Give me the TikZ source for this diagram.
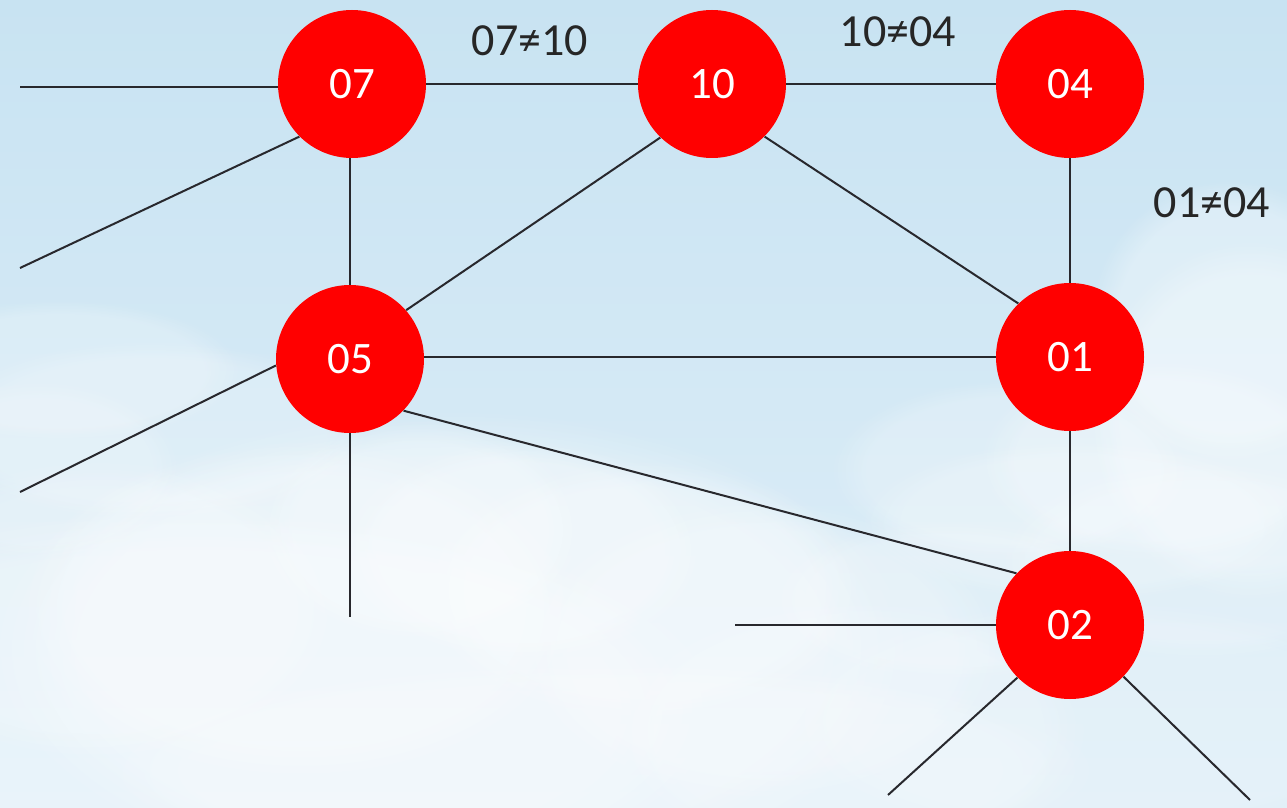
\documentclass[tikz,border=0pt]{standalone}
\usepackage{fontspec}
\setmainfont{Carlito}
\usetikzlibrary{fadings}

\definecolor{skytop}{RGB}{200,227,242}
\definecolor{skybot}{RGB}{224,239,248}
\definecolor{wire}{RGB}{40,40,45}
\definecolor{nodered}{RGB}{255,0,0}

% soft white puff of cloud: centre x, centre y, x radius, y radius (in pt), opacity
\newcommand{\puff}[5]{%
  \fill[white, opacity=#5, path fading=circle with fuzzy edge 20 percent]
    (#1,#2) ellipse [x radius=#3pt, y radius=#4pt];}

\tikzset{
  station/.style={circle, fill=nodered, minimum size=74pt, inner sep=0pt,
    text=white, font=\fontsize{22.5}{26}\selectfont},
  link/.style={draw=wire, line width=1pt},
  tag/.style={text=black!85, font=\fontsize{23}{27}\selectfont, inner sep=0pt}
}

\begin{document}
\begin{tikzpicture}[x=0.5pt, y=-0.5pt]
  % sky
  \shade[top color=skytop, bottom color=skybot] (0,0) rectangle (1287,808);
  \useasboundingbox (0,0) rectangle (1287,808);

  % clouds, lower left mass
  \puff{200}{710}{260}{100}{0.3}
  \puff{450}{650}{230}{120}{0.3}
  \puff{420}{530}{80}{55}{0.25}
  \puff{520}{550}{90}{55}{0.25}
  \puff{640}{590}{110}{65}{0.25}
  \puff{760}{650}{120}{75}{0.22}
  \puff{300}{610}{140}{85}{0.25}
  \puff{100}{610}{120}{75}{0.22}
  \puff{600}{770}{250}{55}{0.22}
  \puff{850}{730}{120}{65}{0.18}
  % faint clouds on the left
  \puff{60}{370}{90}{35}{0.22}
  \puff{150}{430}{110}{45}{0.2}
  \puff{40}{470}{70}{45}{0.18}
  % clouds on the right
  \puff{1230}{320}{70}{70}{0.3}
  \puff{1250}{420}{80}{90}{0.3}
  \puff{1160}{460}{90}{50}{0.25}
  \puff{1010}{470}{90}{45}{0.22}
  \puff{1080}{520}{110}{40}{0.2}
  \puff{1200}{560}{100}{50}{0.2}
  \puff{950}{600}{90}{40}{0.18}
  \puff{1100}{720}{160}{60}{0.18}

  % stations
  \node[station] (n07) at (352,84)  {07};
  \node[station] (n10) at (712,84)  {10};
  \node[station] (n04) at (1070,84) {04};
  \node[station] (n05) at (350,359) {05};
  \node[station] (n01) at (1070,357) {01};
  \node[station] (n02) at (1070,625) {02};

  % loose line ends
  \coordinate (a1) at (20,87);
  \coordinate (a2) at (20,268);
  \coordinate (b1) at (20,492);
  \coordinate (b2) at (350,617);
  \coordinate (c1) at (735,625);
  \coordinate (c2) at (888,795);
  \coordinate (c3) at (1250,800);

  % links
  \draw[link] (a1) -- (a1 -| n07.west);
  \draw[link] (a2) -- (n07.225);
  \draw[link] (n07) -- (n10);
  \draw[link] (n10) -- (n04);
  \draw[link] (n07.south -| n05) -- (n05);
  \draw[link] (n10.226) -- (n05.41);
  \draw[link] (n10.315) -- (n01.134);
  \draw[link] (n04) -- (n01);
  \draw[link] (n05.east |- n01) -- (n01);
  \draw[link] (b1) -- (n05.185);
  \draw[link] (n05) -- (b2);
  \draw[link] (n05.316) -- (n02.136);
  \draw[link] (n01) -- (n02);
  \draw[link] (c1) -- (n02);
  \draw[link] (n02.225) -- (c2);
  \draw[link] (n02.316) -- (c3);

  % labels
  \node[tag] (t1) at (530,41)  {07≠10};
  \node[tag] (t2) at (898,32)  {10≠04};
  \node[tag] (t3) at (1212,203) {01≠04};
\end{tikzpicture}
\end{document}
